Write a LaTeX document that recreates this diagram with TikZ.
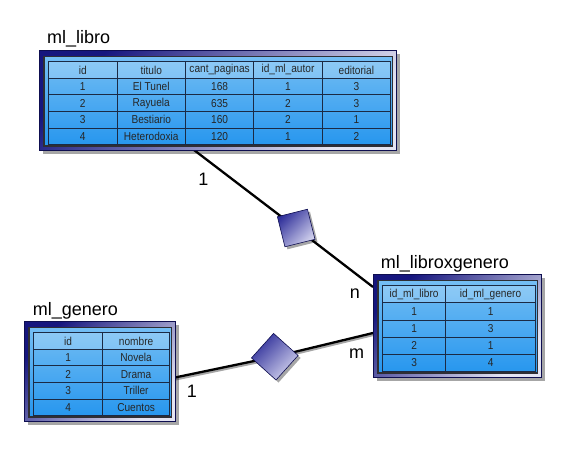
\documentclass[tikz,border=0pt]{standalone}
\usepackage{fontspec}
\setmainfont{Liberation Sans}
\newfontfamily\tabfont{Liberation Sans}[FakeStretch=0.88]
\usetikzlibrary{matrix,shadows}
\definecolor{navyA}{HTML}{16167E}
\definecolor{frameLight}{HTML}{E4E4F2}
\definecolor{frameEdge}{HTML}{0E0E50}
\definecolor{innerGray}{HTML}{2E2E34}
\definecolor{tabTop}{HTML}{74BEF4}
\definecolor{tabBot}{HTML}{2696EE}
\definecolor{gridc}{HTML}{1B2A44}
\definecolor{diamDark}{HTML}{30309A}
\definecolor{diamLight}{HTML}{D2D2EE}
\tikzset{
  framebox/.style={rectangle, draw=frameEdge, line width=0.8pt, inner sep=0pt,
    top color=navyA, bottom color=frameLight, shading angle=45,
    drop shadow={shadow xshift=4pt, shadow yshift=-4pt, fill=black, opacity=.35}},
  innerbox/.style={draw=innerGray, line width=1.2pt, top color=tabTop, bottom color=tabBot},
  cell/.style={draw=gridc, line width=0.8pt, inner sep=0pt, anchor=center,
    text=black!85, font=\tabfont\fontsize{11.5}{13}\selectfont},
  tab/.style={matrix of nodes, inner sep=0pt, column sep=-0.8pt, row sep=-0.8pt,
    anchor=north west, nodes={cell},
    row 1/.style={nodes={fill=white, fill opacity=.2, text opacity=1}}},
  title/.style={anchor=base west, inner sep=0pt, font=\fontsize{18}{21}\selectfont},
  card/.style={anchor=center, inner sep=0pt, font=\fontsize{18}{21}\selectfont},
  diam/.style={rectangle, inner sep=0pt, draw=frameEdge, line width=0.6pt,
    top color=diamDark, bottom color=diamLight, shading angle=45,
    drop shadow={shadow xshift=2.5pt, shadow yshift=-2.5pt, fill=black, opacity=.35}},
  conn/.style={line width=2.3pt, black},
  connshadow/.style={line width=2.3pt, black!35},
}
% name, tx1, ty1, tx2, ty2
\newcommand\erframe[5]{%
  \node[framebox, minimum width={(#4)-(#2)+15}, minimum height={(#5)-(#3)+17}]
    (#1) at ({((#2)+(#4))/2-1.5},{((#3)+(#5))/2-2.5}) {};
  \draw[innerbox] ({(#2)-4},{(#3)-4.5}) rectangle ({(#4)+2.5},{(#5)+2});
}
\begin{document}
\begin{tikzpicture}[x=1pt,y=-1pt]
\useasboundingbox (0,0) rectangle (582,467);

% connectors
\coordinate (p1) at (194,150);
\coordinate (p2) at (373,287);
\coordinate (p3) at (175,377.5);
\coordinate (p4) at (373,333);
\path (296.2,228) coordinate (d1);
\path (274.8,356.7) coordinate (d2);
\draw[connshadow] ([yshift=-2pt]p3) -- ([yshift=-2pt]d2) -- ([yshift=-2pt]p4);
\draw[conn] (p1) -- (d1) -- (p2);
\draw[conn] (p3) -- (d2) -- (p4);
\node[diam, minimum size=31pt, rotate=14] (rel1) at (d1) {};
\node[diam, minimum size=33pt, rotate=48] (rel2) at (d2) {};

% ml_libro
\node[title] (tl1) at (47,43) {ml\_libro};
\erframe{flibro}{48}{61}{390}{144}
\matrix[tab, nodes={minimum width=68.4pt, minimum height=16.6pt}] (tlibro) at (48,61) {
  id & titulo & cant\_paginas & id\_ml\_autor & editorial \\
  1 & El Tunel & 168 & 1 & 3 \\
  2 & Rayuela & 635 & 2 & 3 \\
  3 & Bestiario & 160 & 2 & 1 \\
  4 & Heterodoxia & 120 & 1 & 2 \\
};

% ml_libroxgenero
\node[title] (tl2) at (380.7,268.3) {ml\_libroxgenero};
\erframe{flxg}{382}{285}{535}{371}
\matrix[tab, nodes={minimum height=17.2pt},
  column 1/.style={nodes={minimum width=63pt}},
  column 2/.style={nodes={minimum width=90pt}}] (tlxg) at (382,285) {
  id\_ml\_libro & id\_ml\_genero \\
  1 & 1 \\
  1 & 3 \\
  2 & 1 \\
  3 & 4 \\
};

% ml_genero
\node[title] (tl3) at (32.7,315) {ml\_genero};
\erframe{fgen}{33}{332}{169}{415}
\matrix[tab, nodes={minimum height=16.6pt},
  column 1/.style={nodes={minimum width=69pt}},
  column 2/.style={nodes={minimum width=67pt}}] (tgen) at (33,332) {
  id & nombre \\
  1 & Novela \\
  2 & Drama \\
  3 & Triller \\
  4 & Cuentos \\
};

% cardinalities
\node[card] (c1) at (203.3,179.3) {1};
\node[card] (c2) at (355,293.3) {n};
\node[card] (c3) at (356.7,354) {m};
\node[card] (c4) at (192,391.7) {1};
\end{tikzpicture}
\end{document}
